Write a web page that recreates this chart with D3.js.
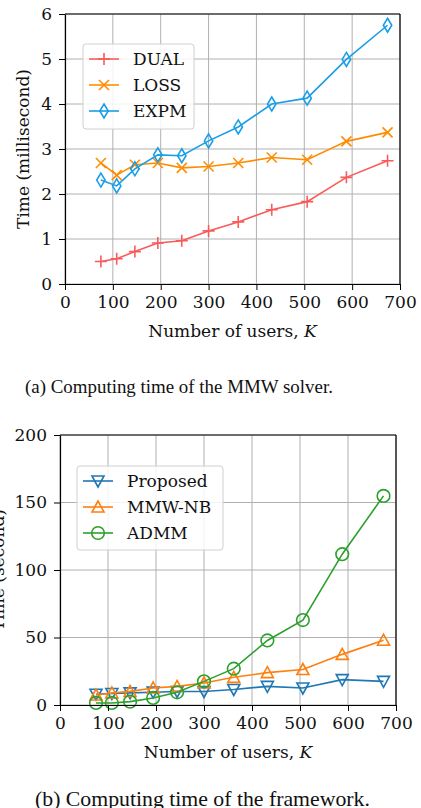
<!DOCTYPE html>
<html>
<head>
<meta charset="utf-8">
<script src="https://cdn.jsdelivr.net/npm/d3@7"></script>
<style>
  body { margin: 0; background: #fff; }
  svg { display: block; }
</style>
</head>
<body>
<svg id="fig" width="421" height="808"></svg>
<script>
// number of users for both panels
const users = [75, 108, 146, 194, 244, 300, 362, 432, 506, 588, 674];
const xTicks = [0, 100, 200, 300, 400, 500, 600, 700];

// panel (a): MMW solver, milliseconds
const dualTime = [0.50, 0.56, 0.72, 0.91, 0.96, 1.18, 1.38, 1.65, 1.83, 2.37, 2.74];
const lossTime = [2.69, 2.42, 2.65, 2.69, 2.58, 2.61, 2.69, 2.81, 2.76, 3.17, 3.37];
const expmTime = [2.31, 2.18, 2.56, 2.87, 2.85, 3.18, 3.49, 4.00, 4.13, 4.99, 5.75];
const aTicks = [0, 1, 2, 3, 4, 5, 6];

// panel (b): whole framework, seconds
const proposedTime = [8.0, 8.5, 9.0, 9.5, 10.0, 10.0, 11.5, 13.8, 12.6, 18.8, 17.5];
const mmwnbTime = [7.4, 8.9, 10.1, 12.6, 13.8, 16.3, 20.5, 24.0, 26.3, 37.5, 48.0];
const admmTime = [1.5, 1.5, 2.5, 5.2, 9.4, 17.5, 26.9, 47.8, 62.9, 111.7, 154.9];
const bTicks = [0, 50, 100, 150, 200];

const svg = d3.select("#fig");
svg.append("rect").attr("width", 421).attr("height", 808).attr("fill", "#fff");

const serif = "'DejaVu Serif', serif";
const fs = "17px";

// marker shapes, centred on 0,0
function markerPath(kind){
        if(kind == "plus") return "M-6,0H6M0,-6V6";
        if(kind == "cross") return "M-5,-5L5,5M-5,5L5,-5";
        if(kind == "diamond") return "M0,-7L4.2,0L0,7L-4.2,0Z";
        if(kind == "tridown") return "M-6,-5H6L0,6Z";
        if(kind == "triup") return "M-6,5H6L0,-6Z";
        if(kind == "circle") return d3.symbol(d3.symbolCircle, 125)();
}

function drawPanel(p){
        const g = svg.append("g");
        const x = d3.scaleLinear().domain([0, 700]).range([p.left, p.right]);
        const y = d3.scaleLinear().domain([0, p.yMax]).range([p.bottom, p.top]);

        // grid
        g.selectAll(".gx").data(xTicks).join("line")
                .attr("x1", d => x(d)).attr("x2", d => x(d))
                .attr("y1", p.top).attr("y2", p.bottom)
                .attr("stroke", "#b0b0b0").attr("stroke-width", 1);
        g.selectAll(".gy").data(p.yTicks).join("line")
                .attr("x1", p.left).attr("x2", p.right)
                .attr("y1", d => y(d)).attr("y2", d => y(d))
                .attr("stroke", "#b0b0b0").attr("stroke-width", 1);

        // series
        const line = d3.line().x((d, i) => x(users[i])).y(d => y(d));
        p.series.forEach(s => {
                g.append("path")
                        .attr("d", line(s.values))
                        .attr("fill", "none")
                        .attr("stroke", s.colour)
                        .attr("stroke-width", 1.6);
                g.selectAll(null).data(s.values).join("path")
                        .attr("transform", (d, i) => `translate(${x(users[i])},${y(d)})`)
                        .attr("d", markerPath(s.marker))
                        .attr("fill", "none")
                        .attr("stroke", s.colour)
                        .attr("stroke-width", 1.6);
        });

        // axes
        g.append("g")
                .attr("transform", `translate(0,${p.bottom})`)
                .call(d3.axisBottom(x).tickValues(xTicks).tickSize(6).tickPadding(6).tickSizeOuter(0))
                .call(a => a.select(".domain").attr("stroke-width", 1.2))
                .call(a => a.selectAll("text").attr("font-family", serif).attr("font-size", fs).attr("fill", "#111"));
        g.append("g")
                .attr("transform", `translate(${p.left},0)`)
                .call(d3.axisLeft(y).tickValues(p.yTicks).tickFormat(d3.format("d")).tickSize(6).tickPadding(7).tickSizeOuter(0))
                .call(a => a.select(".domain").attr("stroke-width", 1.2))
                .call(a => a.selectAll("text").attr("font-family", serif).attr("font-size", fs).attr("fill", "#111"));
        g.append("line").attr("x1", p.left).attr("x2", p.right).attr("y1", p.top).attr("y2", p.top)
                .attr("stroke", "#000").attr("stroke-width", 1.2);
        g.append("line").attr("x1", p.right).attr("x2", p.right).attr("y1", p.top).attr("y2", p.bottom)
                .attr("stroke", "#000").attr("stroke-width", 1.2);

        // axis titles
        const xt = g.append("text")
                .attr("x", (p.left + p.right) / 2).attr("y", p.bottom + 53)
                .attr("text-anchor", "middle")
                .attr("font-family", serif).attr("font-size", fs).attr("fill", "#111");
        xt.append("tspan").text("Number of users, ");
        xt.append("tspan").attr("font-style", "italic").text("K");

        g.append("text")
                .attr("transform", `translate(${p.yLabelX},${(p.top + p.bottom) / 2}) rotate(-90)`)
                .attr("text-anchor", "middle")
                .attr("font-family", serif).attr("font-size", fs).attr("fill", "#111")
                .text(p.yLabel);

        // legend
        const lg = g.append("g");
        lg.append("rect")
                .attr("x", p.legend.x).attr("y", p.legend.y)
                .attr("width", p.legend.w).attr("height", p.legend.h)
                .attr("rx", 3)
                .attr("fill", "#fff").attr("fill-opacity", 0.85)
                .attr("stroke", "#d0d0d0").attr("stroke-width", 1);
        p.series.forEach((s, i) => {
                const ry = p.legend.y + 15 + i * 26;
                const hx = p.legend.x + 6;
                lg.append("line")
                        .attr("x1", hx).attr("x2", hx + 30)
                        .attr("y1", ry).attr("y2", ry)
                        .attr("stroke", s.colour).attr("stroke-width", 1.6);
                lg.append("path")
                        .attr("transform", `translate(${hx + 15},${ry})`)
                        .attr("d", markerPath(s.marker))
                        .attr("fill", "none")
                        .attr("stroke", s.colour).attr("stroke-width", 1.6);
                lg.append("text")
                        .attr("x", hx + 44).attr("y", ry + 6)
                        .attr("font-family", serif).attr("font-size", fs).attr("fill", "#111")
                        .text(s.name);
        });

        // caption, sized to the width it has in the paper
        const cap = svg.append("text")
                .attr("x", p.captionX).attr("y", p.captionY)
                .attr("font-family", "'Liberation Serif', 'Times New Roman', serif")
                .attr("font-size", "18px").attr("fill", "#111")
                .text(p.caption);
        const w = cap.node().getComputedTextLength();
        if(w > 0) cap.attr("font-size", (18 * p.captionW / w).toFixed(2) + "px");
}

drawPanel({
        left: 65, right: 400, top: 14, bottom: 284,
        yMax: 6, yTicks: aTicks,
        yLabel: "Time (millisecond)", yLabelX: 29,
        legend: {x: 83, y: 44, w: 111, h: 85},
        caption: "(a) Computing time of the MMW solver.", captionX: 25, captionY: 393, captionW: 308,
        series: [
                {name: "DUAL", values: dualTime, colour: "#fa5a5a", marker: "plus"},
                {name: "LOSS", values: lossTime, colour: "#ff8c00", marker: "cross"},
                {name: "EXPM", values: expmTime, colour: "#1a9ee8", marker: "diamond"}
        ]
});

drawPanel({
        left: 60, right: 396, top: 435, bottom: 705,
        yMax: 200, yTicks: bTicks,
        yLabel: "Time (second)", yLabelX: 4,
        legend: {x: 77, y: 466, w: 146, h: 84},
        caption: "(b) Computing time of the framework.", captionX: 35, captionY: 806, captionW: 335,
        series: [
                {name: "Proposed", values: proposedTime, colour: "#1f77b4", marker: "tridown"},
                {name: "MMW-NB", values: mmwnbTime, colour: "#ff7f0e", marker: "triup"},
                {name: "ADMM", values: admmTime, colour: "#2ca02c", marker: "circle"}
        ]
});
</script>
</body>
</html>
